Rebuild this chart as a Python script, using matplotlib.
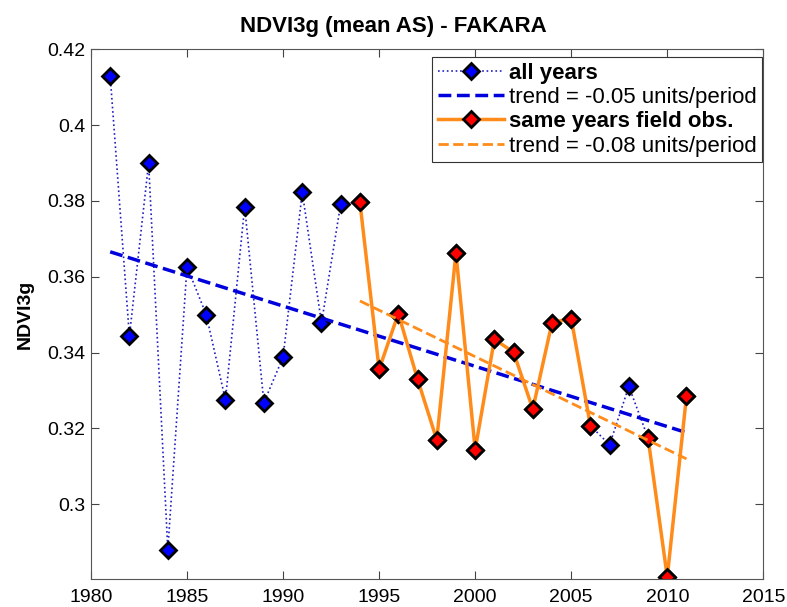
import numpy as np
import matplotlib.pyplot as plt

plt.rcParams['font.family'] = ['Liberation Sans', 'DejaVu Sans']

# NDVI3g mean AS values
years = np.arange(1981, 2012)
ndvi_all = [0.4130, 0.3443, 0.3900, 0.2880, 0.3627, 0.3500, 0.3275, 0.3785,
            0.3268, 0.3388, 0.3823, 0.3478, 0.3793, 0.3797, 0.3356, 0.3503,
            0.3330, 0.3170, 0.3663, 0.3144, 0.3435, 0.3401, 0.3251, 0.3479,
            0.3490, 0.3207, 0.3157, 0.3311, 0.3175, 0.2808, 0.3285]
# years with field observations (1994-2006, 2009-2011)
field_years = [1994, 1995, 1996, 1997, 1998, 1999, 2000, 2001, 2002, 2003,
               2004, 2005, 2006, 2009, 2010, 2011]

ndvi_all = np.array(ndvi_all)
field_mask = np.isin(years, field_years)
# same-years series from 1994 on, NaN where no field obs (breaks the line)
sel = years >= 1994
yrs_f = years[sel]
ndvi_f = np.where(field_mask[sel], ndvi_all[sel], np.nan)

# linear trends
p_all = np.polyfit(years, ndvi_all, 1)
p_f = np.polyfit(years[field_mask], ndvi_all[field_mask], 1)

orange = '#ff8c1a'

fig = plt.figure(figsize=(7.87, 6.07), dpi=100)
ax = fig.add_axes([0.1156, 0.0456, 0.8543, 0.8731])

ax.plot(years, ndvi_all, ':', color='#2020c0', lw=1.2, marker='D', ms=8,
        mfc='blue', mec='black', mew=2, label='all years')
ax.plot(years, np.polyval(p_all, years), '--', color='#0000dd', lw=2.5,
        label='trend = -0.05 units/period')
ax.plot(yrs_f, ndvi_f, '-', color=orange, lw=2.5, marker='D', ms=8,
        mfc='red', mec='black', mew=2, label='same years field obs.')
ax.plot(yrs_f, np.polyval(p_f, yrs_f), '--', color=orange, lw=2,
        label='trend = -0.08 units/period')

ax.set_xlim(1980, 2015)
ax.set_ylim(0.2802, 0.42)
ax.set_xticks(np.arange(1980, 2016, 5))
ax.set_yticks([0.3, 0.32, 0.34, 0.36, 0.38, 0.4, 0.42])
ax.set_yticklabels(['0.3', '0.32', '0.34', '0.36', '0.38', '0.4', '0.42'])
ax.tick_params(direction='in', top=True, right=True, labelsize=14,
               length=5.5, width=0.8, colors='#444444', labelcolor='black')
ax.tick_params(axis='x', pad=7)
ax.tick_params(axis='y', pad=4)
for s in ax.spines.values():
    s.set_color('#555555')
    s.set_linewidth(0.8)

ax.set_ylabel('NDVI3g', fontsize=14, fontweight='bold', labelpad=10)
fig.suptitle('NDVI3g (mean AS) - FAKARA', fontsize=16, fontweight='bold',
             x=0.5, y=1 - 32 / 607, va='baseline')

leg = ax.legend(loc='upper right', fontsize=16, handlelength=3.0,
                handletextpad=0.2, borderpad=0.25, labelspacing=0.15,
                borderaxespad=0, fancybox=False, framealpha=1,
                edgecolor='#333333', bbox_to_anchor=(0.998, 0.9855))
leg.get_frame().set_linewidth(0.8)
for i, t in enumerate(leg.get_texts()):
    if i in (0, 2):
        t.set_fontweight('bold')

fig.savefig('out.png', dpi=100)
